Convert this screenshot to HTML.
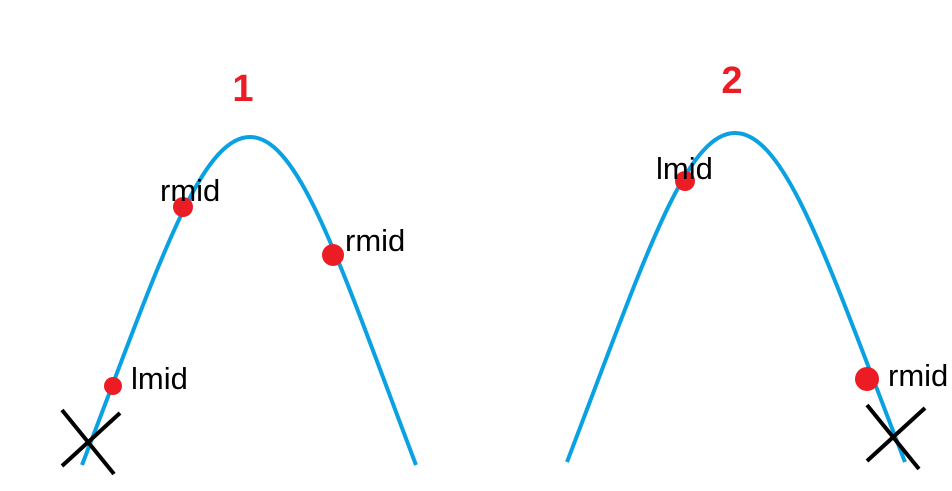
<!DOCTYPE html>
<html>
<head>
<meta charset="utf-8">
<style>
  html, body { margin: 0; padding: 0; background: #fff; }
  svg { display: block; }
  text { font-family: "Liberation Sans", "DejaVu Sans", sans-serif; }
</style>
</head>
<body>
<svg id="chart" width="952" height="491" viewBox="0 0 952 491">
  <g id="curves"></g>
  <g id="crosses"></g>
  <g id="points"></g>
  <g id="labels"></g>
</svg>
<script>
// Curve data: start, peak, end for each panel
const curveNames = ["curve-1", "curve-2"];
const curveStartX = [82, 567];
const curvePeakX = [250, 735];
const curveEndX = [416, 905];
const curveBaseY = [465, 462];
const curvePeakY = [137, 133];
const titleLabels = ["1", "2"];
const titleX = [243, 732];
const titleY = [101, 93];

// Marker points
const pointNames = ["lmid-1", "rmid-1a", "rmid-1b", "lmid-2", "rmid-2"];
const pointX = [113, 183, 333, 685, 867];
const pointY = [386, 207, 255, 181, 379];
const pointR = [9, 10, 11, 10, 12];
const pointLabels = ["lmid", "rmid", "rmid", "lmid", "rmid"];
const labelX = [131, 160, 345, 656, 888];
const labelY = [389, 201, 251, 179, 386];

// Crosses (centre)
const crossX = [88, 893];
const crossY = [441, 436];

const NS = "http://www.w3.org/2000/svg";
const gC = document.getElementById("curves");
const gX = document.getElementById("crosses");
const gP = document.getElementById("points");
const gL = document.getElementById("labels");

for (let i = 0; i < curveNames.length; i++) {
  const sx = curveStartX[i], px = curvePeakX[i], ex = curveEndX[i];
  const by = curveBaseY[i], py = curvePeakY[i];
  const d = `M${sx},${by} C${sx + (px - sx) * 0.45},${by - (by - py) * 0.6} ${px - (px - sx) * 0.3},${py} ${px},${py} ` +
            `C${px + (ex - px) * 0.3},${py} ${ex - (ex - px) * 0.45},${by - (by - py) * 0.6} ${ex},${by}`;
  const p = document.createElementNS(NS, "path");
  p.setAttribute("d", d);
  p.setAttribute("fill", "none");
  p.setAttribute("stroke", "#0aa1e2");
  p.setAttribute("stroke-width", "4");
  
  
  gC.appendChild(p);

  const t = document.createElementNS(NS, "text");
  t.setAttribute("x", titleX[i]);
  t.setAttribute("y", titleY[i]);
  t.setAttribute("text-anchor", "middle");
  t.setAttribute("font-size", "38");
  t.setAttribute("font-weight", "bold");
  t.setAttribute("fill", "#ec1c24");
  t.textContent = titleLabels[i];
  
  
  gL.appendChild(t);
}

for (let i = 0; i < crossX.length; i++) {
  const cx = crossX[i], cy = crossY[i];
  const g = document.createElementNS(NS, "g");
  
  
  const l1 = document.createElementNS(NS, "line");
  l1.setAttribute("x1", cx - 26); l1.setAttribute("y1", cy - 31);
  l1.setAttribute("x2", cx + 26); l1.setAttribute("y2", cy + 33);
  const l2 = document.createElementNS(NS, "line");
  l2.setAttribute("x1", cx - 26); l2.setAttribute("y1", cy + 25);
  l2.setAttribute("x2", cx + 32); l2.setAttribute("y2", cy - 28);
  [l1, l2].forEach(l => { l.setAttribute("stroke", "#000"); l.setAttribute("stroke-width", "4"); g.appendChild(l); });
  gX.appendChild(g);
}

for (let i = 0; i < pointNames.length; i++) {
  const c = document.createElementNS(NS, "circle");
  c.setAttribute("cx", pointX[i]);
  c.setAttribute("cy", pointY[i]);
  c.setAttribute("r", pointR[i]);
  c.setAttribute("fill", "#ec1c24");
  
  
  gP.appendChild(c);

  const t = document.createElementNS(NS, "text");
  t.setAttribute("x", labelX[i]);
  t.setAttribute("y", labelY[i]);
  t.setAttribute("font-size", "31");
  t.setAttribute("fill", "#000");
  t.textContent = pointLabels[i];
  
  
  gL.appendChild(t);
}
</script>
</body>
</html>
